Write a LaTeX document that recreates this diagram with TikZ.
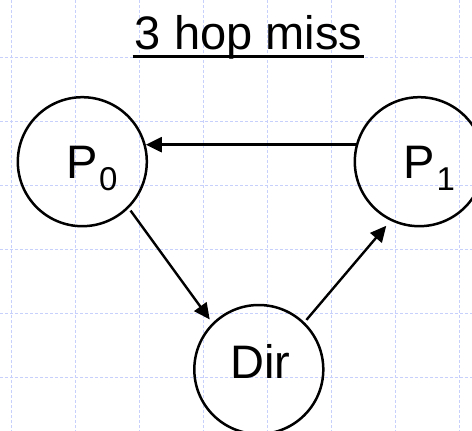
\documentclass[tikz,border=0pt]{standalone}
\usepackage{fontspec}
\setmainfont{Liberation Sans}
\usetikzlibrary{arrows.meta}
\definecolor{gridc}{RGB}{198,208,250}
\tikzset{
  gridline/.style={draw=gridc, line width=1pt, dash pattern=on 3pt off 2pt},
  state/.style={circle, draw=black, line width=2.5pt, minimum size=129pt, inner sep=0pt, fill=none},
  lbl/.style={inner sep=0pt, font=\fontsize{47}{50}\selectfont},
  arr/.style={draw=black, line width=2.4pt, -{Triangle[length=16pt,width=15pt]}},
}
\newcommand{\subsc}[1]{\kern1.5pt\raisebox{-12.3pt}{\fontsize{33}{34}\selectfont #1}}
\begin{document}
\begin{tikzpicture}[x=1pt,y=-1pt]
\useasboundingbox (0,0) rectangle (472,431);
\clip (0,0) rectangle (472,431);
\fill[white] (0,0) rectangle (472,431);
\foreach \x in {11,75,...,459} \draw[gridline] (\x,0) -- (\x,431);
\foreach \y in {57,121,...,377} \draw[gridline] (0,\y) -- (472,\y);

\node[lbl, anchor=base] (title) at (248.5,49.5) {3 hop miss};
\draw[line width=2.8pt] ([xshift=-2pt,yshift=-7.2pt]title.base west) -- ([xshift=2pt,yshift=-7.2pt]title.base east);

\node[state] (P0) at (82.3,161.7) {};
\node[state] (P1) at (419.3,161.7) {};
\node[state] (Dir) at (258.8,369.5) {};

\node[lbl, anchor=base west] (P0lbl) at (66,178) {P\subsc{0}};
\node[lbl, anchor=base west] (P1lbl) at (403.5,178) {P\subsc{1}};
\node[lbl, anchor=base west] (Dirlbl) at (230,378) {Dir};

\draw[arr] (P1.165) -- (P0.15);
\draw[arr, shorten <=3pt, shorten >=4.4pt] (P0.-45) -- (Dir.135);
\draw[arr, shorten <=3pt, shorten >=6.5pt] (Dir.46) -- (P1.244.5);
\end{tikzpicture}
\end{document}
